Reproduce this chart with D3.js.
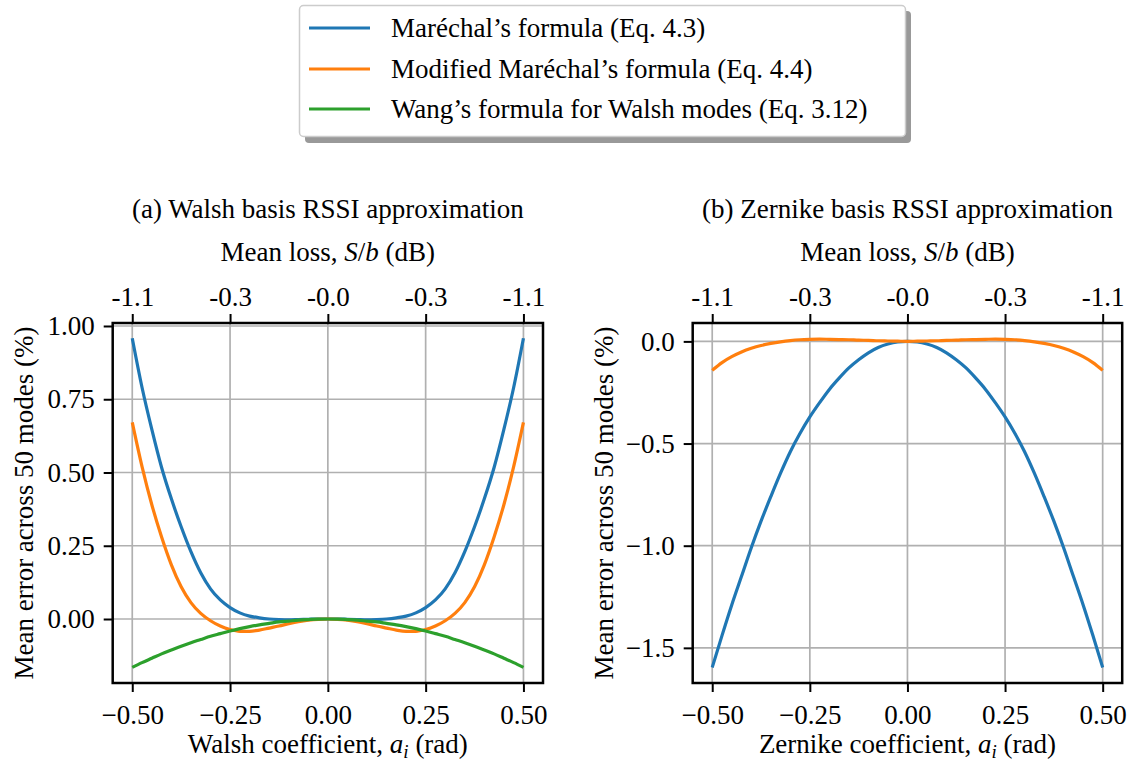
<!DOCTYPE html>
<html>
<head>
<meta charset="utf-8">
<script src="https://cdn.jsdelivr.net/npm/d3@7"></script>
<style>
  body { margin: 0; background: #fff; }
  svg text { font-family: "Liberation Serif", "DejaVu Serif", serif; fill: #000; }
</style>
</head>
<body>
<svg id="chart" width="1130" height="767"></svg>
<script>
// coefficient values (rad) along both x axes
var coeffs = [-0.5, -0.475, -0.45, -0.425, -0.4, -0.375, -0.35, -0.325, -0.3, -0.275, -0.25,
  -0.225, -0.2, -0.175, -0.15, -0.125, -0.1, -0.075, -0.05, -0.025, 0,
  0.025, 0.05, 0.075, 0.1, 0.125, 0.15, 0.175, 0.2, 0.225, 0.25,
  0.275, 0.3, 0.325, 0.35, 0.375, 0.4, 0.425, 0.45, 0.475, 0.5]

// (a) Walsh basis
var walshMarechal = [0.958, 0.79, 0.647, 0.517, 0.41, 0.315, 0.23, 0.158, 0.103, 0.065, 0.039,
  0.021, 0.010, 0.004, 0.0, -0.002, -0.003, -0.002, -0.001, 0.0, 0.0,
  0.0, -0.001, -0.002, -0.003, -0.002, 0.0, 0.004, 0.010, 0.021, 0.039,
  0.065, 0.103, 0.158, 0.23, 0.315, 0.41, 0.517, 0.647, 0.79, 0.958]
var walshModified = [0.671, 0.52, 0.39, 0.28, 0.185, 0.11, 0.056, 0.019, -0.006, -0.024, -0.036,
  -0.042, -0.042, -0.038, -0.031, -0.024, -0.016, -0.009, -0.004, -0.001, 0.0,
  -0.001, -0.004, -0.009, -0.016, -0.024, -0.031, -0.038, -0.042, -0.042, -0.036,
  -0.024, -0.006, 0.019, 0.056, 0.11, 0.185, 0.28, 0.39, 0.52, 0.671]
var walshWang = [-0.165, -0.149, -0.134, -0.119, -0.106, -0.093, -0.081, -0.070, -0.059, -0.050, -0.041,
  -0.033, -0.026, -0.020, -0.015, -0.010, -0.007, -0.004, -0.002, -0.0004, 0.0,
  -0.0004, -0.002, -0.004, -0.007, -0.010, -0.015, -0.020, -0.026, -0.033, -0.041,
  -0.050, -0.059, -0.070, -0.081, -0.093, -0.106, -0.119, -0.134, -0.149, -0.165]

// (b) Zernike basis
var zernikeMarechal = [-1.596, -1.44, -1.29, -1.15, -1.01, -0.88, -0.76, -0.645, -0.54, -0.45, -0.37,
  -0.30, -0.235, -0.18, -0.13, -0.09, -0.056, -0.03, -0.013, -0.003, 0.0,
  -0.003, -0.013, -0.03, -0.056, -0.09, -0.13, -0.18, -0.235, -0.30, -0.37,
  -0.45, -0.54, -0.645, -0.76, -0.88, -1.01, -1.15, -1.29, -1.44, -1.596]
var zernikeModified = [-0.142, -0.104, -0.075, -0.052, -0.034, -0.020, -0.010, -0.002, 0.004, 0.008, 0.010,
  0.011, 0.010, 0.009, 0.008, 0.006, 0.005, 0.003, 0.002, 0.001, 0.0,
  0.001, 0.002, 0.003, 0.005, 0.006, 0.008, 0.009, 0.010, 0.011, 0.010,
  0.008, 0.004, -0.002, -0.010, -0.020, -0.034, -0.052, -0.075, -0.104, -0.142]

var xTicks = [-0.5, -0.25, 0, 0.25, 0.5]
var xTickLabels = ["\u22120.50", "\u22120.25", "0.00", "0.25", "0.50"]
var topTickLabels = ["-1.1", "-0.3", "-0.0", "-0.3", "-1.1"]
var walshYTicks = [0, 0.25, 0.5, 0.75, 1.0]
var zernikeYTicks = [-1.5, -1.0, -0.5, 0.0]

var seriesNames = ["Maréchal’s formula (Eq. 4.3)", "Modified Maréchal’s formula (Eq. 4.4)", "Wang’s formula for Walsh modes (Eq. 3.12)"]
var colors = ["#1f77b4", "#ff7f0e", "#2ca02c"]

var svg = d3.select('#chart')
var fs = 27

function panel(opts) {
    var x = d3.scaleLinear().domain([-0.55, 0.55]).range([opts.left, opts.right])
    var y = d3.scaleLinear().domain(opts.yDomain).range([683, 323])
    var g = svg.append("g")

    // grid
    g.selectAll(".vgrid").data(xTicks).enter().append("line")
        .attr("x1", d => x(d)).attr("x2", d => x(d))
        .attr("y1", 323).attr("y2", 683)
        .style("stroke", "#b0b0b0").style("stroke-width", 1.7)
    g.selectAll(".hgrid").data(opts.yTicks).enter().append("line")
        .attr("x1", opts.left).attr("x2", opts.right)
        .attr("y1", d => y(d)).attr("y2", d => y(d))
        .style("stroke", "#b0b0b0").style("stroke-width", 1.7)

    // curves
    var line = d3.line().x((d, i) => x(coeffs[i])).y(d => y(d)).curve(d3.curveMonotoneX)
    opts.series.forEach(function(s, k) {
        g.append("path")
            .datum(s)
            .attr("d", line)
            .style("fill", "none")
            .style("stroke", colors[k])
            .style("stroke-width", 3.2)
    })

    // axes
    var bottom = g.append("g").attr("transform", "translate(0,683)")
        .call(d3.axisBottom(x).tickValues(xTicks).tickSize(9).tickPadding(8)
        .tickFormat((d, i) => xTickLabels[i]))
    var top = g.append("g").attr("transform", "translate(0,323)")
        .call(d3.axisTop(x).tickValues(xTicks).tickSize(9).tickPadding(8)
        .tickFormat((d, i) => topTickLabels[i]))
    var left = g.append("g").attr("transform", "translate(" + opts.left + ",0)")
        .call(d3.axisLeft(y).tickValues(opts.yTicks).tickSize(9).tickPadding(9)
        .tickFormat(opts.yFormat))
    ;[bottom, top, left].forEach(function(a) {
        a.select(".domain").remove()
        a.selectAll(".tick line").style("stroke", "#000").style("stroke-width", 2)
        a.selectAll(".tick text").style("font-size", fs + "px")
            .style("font-family", '"Liberation Serif", serif').attr("fill", "#000")
    })
    bottom.selectAll(".tick text").attr("dy", "0.9em")

    // frame
    g.append("rect")
        .attr("x", opts.left).attr("y", 323)
        .attr("width", opts.right - opts.left).attr("height", 360)
        .style("fill", "none").style("stroke", "#000").style("stroke-width", 2.5)

    var cx = (opts.left + opts.right) / 2
    g.append("text").attr("x", cx).attr("y", 218)
        .attr("text-anchor", "middle").style("font-size", fs + "px")
        .text(opts.title)

    var ml = g.append("text").attr("x", cx).attr("y", 261)
        .attr("text-anchor", "middle").style("font-size", fs + "px")
    ml.append("tspan").text("Mean loss, ")
    ml.append("tspan").style("font-style", "italic").text("S")
    ml.append("tspan").text("/")
    ml.append("tspan").style("font-style", "italic").text("b")
    ml.append("tspan").text(" (dB)")

    var xl = g.append("text").attr("x", cx).attr("y", 753)
        .attr("text-anchor", "middle").style("font-size", fs + "px")
    xl.append("tspan").text(opts.xName + " coefficient, ")
    xl.append("tspan").style("font-style", "italic").text("a")
    xl.append("tspan").style("font-style", "italic").style("font-size", "19px")
        .attr("dy", 5).text("i")
    xl.append("tspan").attr("dy", -5).text(" (rad)")

    g.append("text")
        .attr("transform", "translate(" + (opts.left - 80) + ",503) rotate(-90)")
        .attr("text-anchor", "middle").style("font-size", fs + "px")
        .text("Mean error across 50 modes (%)")
}

panel({
    left: 112.7, right: 543,
    yDomain: [-0.2184, 1.0102],
    yTicks: walshYTicks,
    yFormat: d3.format(".2f"),
    series: [walshMarechal, walshModified, walshWang],
    title: "(a) Walsh basis RSSI approximation",
    xName: "Walsh"
})

panel({
    left: 692.7, right: 1122.2,
    yDomain: [-1.672, 0.09],
    yTicks: zernikeYTicks,
    yFormat: d => d3.format(".1f")(d).replace("-", "\u2212"),
    series: [zernikeMarechal, zernikeModified],
    title: "(b) Zernike basis RSSI approximation",
    xName: "Zernike"
})

// Legend
var leg = svg.append("g")
leg.append("rect").attr("x", 305).attr("y", 11).attr("width", 606).attr("height", 132)
    .attr("rx", 4).style("fill", "#999")
leg.append("rect").attr("x", 299.5).attr("y", 5.5).attr("width", 606).attr("height", 131)
    .attr("rx", 4).style("fill", "#fff").style("stroke", "#cccccc").style("stroke-width", 1.5)
var rows = [28, 69, 109]
seriesNames.forEach(function(name, i) {
    leg.append("line").attr("x1", 309).attr("x2", 370).attr("y1", rows[i]).attr("y2", rows[i])
        .style("stroke", colors[i]).style("stroke-width", 3.2)
    leg.append("text").attr("x", 391).attr("y", rows[i] + 9)
        .style("font-size", fs + "px").text(name)
})
</script>
</body>
</html>
